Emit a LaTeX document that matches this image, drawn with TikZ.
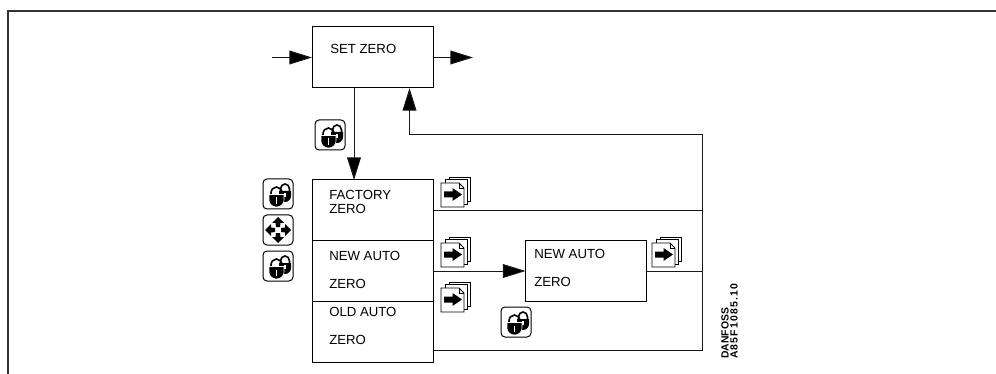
\documentclass[tikz,border=0pt]{standalone}
\usepackage{fontspec}
\setmainfont{Liberation Sans}
\usetikzlibrary{arrows.meta,calc}
\tikzset{
  line/.style={draw=black!90,line width=0.7pt},
  frameline/.style={draw=black!80,line width=1.1pt},
  flow/.style={line,-{Triangle[length=17pt,width=10.4pt,fill=black]}},
  boxnode/.style={draw=black,line width=0.75pt,inner sep=0pt,outer sep=0pt,fill=white},
  lbl/.style={anchor=base west,inner sep=0pt,font=\fontsize{9.9pt}{11pt}\selectfont},
  code/.style={anchor=base west,inner sep=0pt,rotate=90,font=\fontsize{7.8pt}{8pt}\selectfont\bfseries},
  iconframe/.style={draw=black,line width=0.75pt,rounded corners=3pt,fill=white},
}
\newcommand{\lockicon}[2]{%
 \begin{scope}[shift={(#1,#2)}]
  \draw[iconframe] (0,0) rectangle (30,30);
  \draw[line width=1.2pt] (8,17) -- (8,14) arc[start angle=180,end angle=360,x radius=5.5,y radius=6] -- (19,17);
  \draw[line width=1.2pt] (17.5,12) -- (17.5,10) arc[start angle=180,end angle=360,x radius=4.5,y radius=5] -- (26.5,13);
  \fill (16,12) -- (28,12) -- (28,17) arc[start angle=0,end angle=180,x radius=6,y radius=6] -- cycle;
  \fill[white] (21.2,14) rectangle (22.8,18);
  \fill[draw=white,line width=0.4pt,fill=black] (6,15.5) -- (21,15.5) -- (21,21) arc[start angle=0,end angle=180,x radius=7.5,y radius=7] -- cycle;
  \fill[white] (12.6,18.5) rectangle (14.4,25);
 \end{scope}}
\newcommand{\pageicon}[2]{%
 \begin{scope}[shift={(#1,#2)}]
  \draw[line width=0.55pt,fill=white] (8,0) -- (29,0) -- (29,24.5) -- (8,24.5) -- cycle;
  \draw[line width=0.55pt,fill=white] (4,2.5) -- (26.5,2.5) -- (26.5,27) -- (4,27) -- cycle;
  \draw[line width=0.7pt,fill=white] (0,6) -- (18,6) -- (23,11) -- (23,30) -- (0,30) -- cycle;
  \draw[line width=0.55pt] (18,6) -- (18,11) -- (23,11);
  \fill (3,14.5) -- (11.5,14.5) -- (11.5,11) -- (21,17.5) -- (11.5,24) -- (11.5,20.5) -- (3,20.5) -- cycle;
 \end{scope}}
\newcommand{\crossicon}[2]{%
 \begin{scope}[shift={(#1,#2)}]
  \draw[iconframe] (0,0) rectangle (30,30);
  \fill (15,2) -- (21,8) -- (17.5,8) -- (17,12) -- (13,12) -- (12.5,8) -- (9,8) -- cycle;
  \fill (15,28) -- (21,22) -- (17.5,22) -- (17,18) -- (13,18) -- (12.5,22) -- (9,22) -- cycle;
  \fill (2,15) -- (8,9) -- (8,12.5) -- (12,13) -- (12,17) -- (8,17.5) -- (8,21) -- cycle;
  \fill (28,15) -- (22,9) -- (22,12.5) -- (18,13) -- (18,17) -- (22,17.5) -- (22,21) -- cycle;
 \end{scope}}
\begin{document}
\begin{tikzpicture}[x=0.75pt,y=-0.75pt]
\useasboundingbox (0,0) rectangle (996,374);
\coordinate (fA) at (8,374);
\coordinate (fB) at (8,11);
\coordinate (fC) at (996,11);
\draw[frameline] (fA) -- (fB) -- (fC);

% boxes
\node[boxnode,minimum width=121*0.75pt,minimum height=61*0.75pt] (setzero) at (372.5,57.5) {};
\node[boxnode,minimum width=121*0.75pt,minimum height=60.5*0.75pt] (factory) at (372.5,210.25) {};
\node[boxnode,minimum width=121*0.75pt,minimum height=60.5*0.75pt] (newauto) at (372.5,270.75) {};
\node[boxnode,minimum width=121*0.75pt,minimum height=61*0.75pt] (oldauto) at (372.5,331.5) {};
\node[boxnode,minimum width=121*0.75pt,minimum height=60.5*0.75pt] (newbox) at (586,271) {};

% free ends
\coordinate (inS) at (272,57.5);
\coordinate (outE) at (473,57.5);
\coordinate (upT) at (409.5,88);
\coordinate (upB) at (409.5,134);
\coordinate (rT) at (702.5,134);
\coordinate (r1) at (702.5,210.5);
\coordinate (r2) at (702.5,271);
\coordinate (r3) at (702.5,350.5);
\coordinate (downT) at (354,88);
\coordinate (downB) at (354,180);

\draw[flow] (inS) -- (setzero.west);
\draw[flow] (setzero.east) -- (outE);
\draw[flow] (downT) -- (downB);
\draw[flow] (rT) -- (upB) -- (upT);
\draw[line] (rT) -- (r3);
\draw[line] (factory.east |- r1) -- (r1);
\draw[flow] (newauto.east |- newbox.west) -- (newbox.west);
\draw[line] (newbox.east) -- (r2);
\draw[line] (oldauto.east |- r3) -- (r3);

% text
\node[lbl] (t1) at (330,54) {SET ZERO};
\node[lbl] (t2) at (329,199.5) {FACTORY};
\node[lbl] (t3) at (329,213.5) {ZERO};
\node[lbl] (t4) at (329,260) {NEW AUTO};
\node[lbl] (t5) at (329,288) {ZERO};
\node[lbl] (t6) at (329,316) {OLD AUTO};
\node[lbl] (t7) at (329,344) {ZERO};
\node[lbl] (t8) at (534,258.5) {NEW AUTO};
\node[lbl] (t9) at (534,286.5) {ZERO};
\node[code] (c1) at (728.5,359) {DANFOSS};
\node[code] (c2) at (737.5,359) {\addfontfeature{LetterSpace=11.5}A85F1085.10};

% icons
\lockicon{315}{120}
\lockicon{263}{179}
\crossicon{263}{215}
\lockicon{263}{251}
\lockicon{501}{307}
\pageicon{441}{177}
\pageicon{441}{237}
\pageicon{441}{282}
\pageicon{652}{237}
\end{tikzpicture}
\end{document}
